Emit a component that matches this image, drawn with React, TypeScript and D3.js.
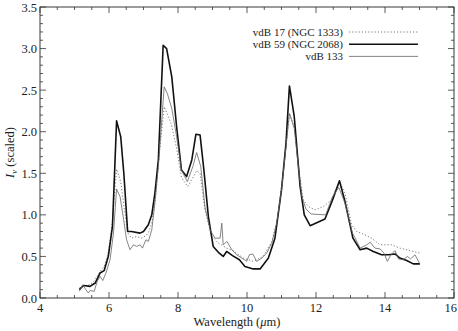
import React, { useEffect, useRef } from 'react';
import * as d3 from 'd3';

// spectra: [wavelength (um), I_nu scaled]
const vdb17: [number, number][] = [
  [5.14, 0.12], [5.3, 0.15], [5.45, 0.16], [5.6, 0.22], [5.74, 0.32], [5.86, 0.38],
  [5.98, 0.55], [6.1, 0.92], [6.22, 1.55], [6.34, 1.4], [6.45, 1.05], [6.55, 0.78],
  [6.65, 0.72], [6.8, 0.74], [6.95, 0.72], [7.07, 0.75], [7.15, 0.79], [7.25, 0.92],
  [7.35, 1.22], [7.45, 1.7], [7.6, 2.3], [7.8, 2.1], [7.96, 1.8], [8.1, 1.45],
  [8.28, 1.34], [8.42, 1.44], [8.54, 1.53], [8.64, 1.5], [8.78, 1.06], [8.98, 0.74],
  [9.17, 0.66], [9.41, 0.6], [9.6, 0.57], [9.89, 0.48], [10.18, 0.44], [10.47, 0.5],
  [10.72, 0.68], [10.88, 0.94], [11.0, 1.34], [11.13, 1.82], [11.23, 2.22], [11.37, 2.06],
  [11.52, 1.5], [11.63, 1.18], [11.78, 1.1], [11.97, 1.06], [12.21, 1.1], [12.45, 1.18],
  [12.68, 1.4], [12.84, 1.26], [13.03, 0.88], [13.18, 0.8], [13.37, 0.77], [13.61, 0.72],
  [13.86, 0.64], [14.19, 0.64], [14.43, 0.6], [14.72, 0.57], [15.01, 0.54],
];

const vdb59: [number, number][] = [
  [5.14, 0.1], [5.26, 0.15], [5.45, 0.14], [5.6, 0.18], [5.74, 0.3], [5.86, 0.33],
  [5.98, 0.5], [6.1, 0.86], [6.22, 2.13], [6.34, 1.94], [6.43, 1.5], [6.54, 0.8],
  [6.65, 0.8], [6.9, 0.78], [7.0, 0.8], [7.14, 0.88], [7.24, 1.0], [7.33, 1.26],
  [7.43, 1.66], [7.57, 3.04], [7.67, 3.0], [7.82, 2.66], [7.96, 2.06], [8.1, 1.54],
  [8.25, 1.46], [8.4, 1.66], [8.52, 1.97], [8.64, 1.96], [8.75, 1.54], [8.88, 0.98],
  [9.02, 0.62], [9.17, 0.55], [9.31, 0.5], [9.41, 0.56], [9.58, 0.51], [9.78, 0.46],
  [9.94, 0.38], [10.18, 0.35], [10.38, 0.35], [10.62, 0.48], [10.81, 0.72], [11.0, 1.3],
  [11.13, 1.86], [11.23, 2.55], [11.37, 2.18], [11.54, 1.34], [11.66, 1.0], [11.83, 0.87],
  [12.26, 0.95], [12.48, 1.18], [12.68, 1.41], [12.84, 1.16], [13.07, 0.72], [13.28, 0.58],
  [13.47, 0.6], [13.66, 0.56], [13.9, 0.52], [14.1, 0.52], [14.29, 0.53], [14.43, 0.48],
  [14.63, 0.45], [14.82, 0.41], [15.01, 0.41],
];

const vdb133: [number, number][] = [
  [5.14, 0.08], [5.24, 0.16], [5.33, 0.1], [5.4, 0.06], [5.45, 0.09], [5.57, 0.08],
  [5.66, 0.2], [5.74, 0.26], [5.82, 0.21], [5.91, 0.3], [6.03, 0.46], [6.13, 0.78],
  [6.22, 1.31], [6.32, 1.22], [6.41, 0.98], [6.51, 0.7], [6.61, 0.58], [6.71, 0.64],
  [6.8, 0.62], [6.9, 0.64], [6.97, 0.6], [7.07, 0.7], [7.14, 0.68], [7.24, 0.82],
  [7.33, 1.14], [7.43, 1.58], [7.6, 2.54], [7.69, 2.46], [7.82, 2.28], [7.96, 1.94],
  [8.1, 1.54], [8.27, 1.4], [8.43, 1.58], [8.54, 1.75], [8.66, 1.58], [8.78, 1.1],
  [8.93, 0.82], [9.07, 0.72], [9.22, 0.72], [9.27, 0.9], [9.31, 0.64], [9.42, 0.68],
  [9.56, 0.58], [9.7, 0.52], [9.85, 0.48], [9.99, 0.44], [10.07, 0.52], [10.17, 0.53],
  [10.28, 0.44], [10.43, 0.48], [10.57, 0.54], [10.72, 0.66], [10.86, 0.9], [11.0, 1.3],
  [11.13, 1.82], [11.23, 2.22], [11.37, 2.04], [11.52, 1.46], [11.59, 1.22], [11.71, 1.07],
  [11.86, 1.01], [12.28, 1.0], [12.47, 1.21], [12.66, 1.33], [12.84, 1.14], [13.06, 0.78],
  [13.28, 0.6], [13.47, 0.64], [13.57, 0.67], [13.71, 0.6], [13.86, 0.59], [13.97, 0.54],
  [14.07, 0.44], [14.17, 0.52], [14.29, 0.57], [14.39, 0.47], [14.53, 0.46], [14.65, 0.5],
  [14.74, 0.47], [14.87, 0.52], [15.01, 0.41],
];

const seriesNames = ['vdB 17 (NGC 1333)', 'vdB 59 (NGC 2068)', 'vdB 133'];
const xTicks = [4, 6, 8, 10, 12, 14, 16];
const yTicks = [0, 0.5, 1, 1.5, 2, 2.5, 3, 3.5];

const W = 458;
const H = 331;
const margin = { top: 7, right: 4, bottom: 33, left: 40 };
const FONT = "'Liberation Serif', 'Times New Roman', Times, 'DejaVu Serif', serif";

const App = () => {
  const ref = useRef<SVGSVGElement>(null);

  useEffect(() => {
    const svg = d3.select(ref.current);
    svg.selectAll('*').remove();

    const x = d3.scaleLinear().domain([4, 16]).range([margin.left, W - margin.right]);
    const y = d3.scaleLinear().domain([0, 3.5]).range([H - margin.bottom, margin.top]);
    const x0 = margin.left, x1 = W - margin.right;
    const y0 = H - margin.bottom, y1 = margin.top;

    // frame
    svg.append('rect')
      .attr('x', x0).attr('y', y1)
      .attr('width', x1 - x0).attr('height', y0 - y1)
      .attr('fill', 'none').attr('stroke', '#222').attr('stroke-width', 0.9);

    // ticks on all four sides, pointing inward
    const minorX = d3.range(4, 16.01, 0.5);
    const minorY = d3.range(0, 3.501, 0.1);
    const tg = svg.append('g').attr('stroke', '#333').attr('stroke-width', 0.8);
    minorX.forEach((v) => {
      const major = Math.abs(v % 2) < 1e-6;
      const len = major ? 6 : 3;
      tg.append('line').attr('x1', x(v)).attr('x2', x(v)).attr('y1', y0).attr('y2', y0 - len);
      tg.append('line').attr('x1', x(v)).attr('x2', x(v)).attr('y1', y1).attr('y2', y1 + len);
    });
    minorY.forEach((v) => {
      const r = Math.round(v * 10) % 5;
      const len = r === 0 ? 6 : 3;
      tg.append('line').attr('x1', x0).attr('x2', x0 + len).attr('y1', y(v)).attr('y2', y(v));
      tg.append('line').attr('x1', x1).attr('x2', x1 - len).attr('y1', y(v)).attr('y2', y(v));
    });

    const txt = (sel: any) => sel.style('font-family', FONT).attr('fill', '#222');

    // tick labels (the last one is pulled in so it stays inside the page)
    svg.append('g').selectAll('text').data(xTicks).enter().append('text')
      .attr('x', (d) => (d === 16 ? W - 1 : x(d)))
      .attr('y', y0 + 14)
      .attr('text-anchor', (d) => (d === 16 ? 'end' : 'middle'))
      .attr('font-size', 12.5)
      .call(txt)
      .text((d) => d);
    svg.append('g').selectAll('text').data(yTicks).enter().append('text')
      .attr('x', x0 - 3).attr('y', (d) => y(d) + 4.5)
      .attr('text-anchor', 'end')
      .attr('font-size', 12.5)
      .call(txt)
      .text((d) => d.toFixed(1));

    // axis titles
    const xt = svg.append('text')
      .attr('x', 237).attr('y', 326)
      .attr('text-anchor', 'middle')
      .attr('font-size', 12.5)
      .call(txt);
    xt.append('tspan').text('Wavelength (');
    xt.append('tspan').attr('font-style', 'italic').text('\u03bc');
    xt.append('tspan').text('m)');

    const yt = svg.append('text')
      .attr('transform', `translate(14,${(y0 + y1) / 2}) rotate(-90)`)
      .attr('text-anchor', 'middle')
      .attr('font-size', 12.5)
      .call(txt);
    yt.append('tspan').attr('font-style', 'italic').text('I');
    yt.append('tspan').attr('font-style', 'italic').attr('font-size', 9).attr('dy', 3).text('\u03bd');
    yt.append('tspan').attr('dy', -3).text(' (scaled)');

    // spectra
    const line = d3.line<[number, number]>().x((d) => x(d[0])).y((d) => y(d[1]));
    const styles = [
      { data: vdb17, stroke: '#555', width: 0.8, dash: '1.2,2' },
      { data: vdb59, stroke: '#111', width: 1.6, dash: null },
      { data: vdb133, stroke: '#666', width: 0.8, dash: null },
    ];
    styles.forEach((s) => {
      svg.append('path')
        .datum(s.data)
        .attr('d', line)
        .attr('fill', 'none')
        .attr('stroke', s.stroke)
        .attr('stroke-width', s.width)
        .attr('stroke-linejoin', 'round')
        .attr('stroke-dasharray', s.dash);
    });

    // legend
    const lg = svg.append('g');
    seriesNames.forEach((name, i) => {
      const ly = 32 + i * 12.2;
      lg.append('text')
        .attr('x', 343).attr('y', ly + 3.8)
        .attr('text-anchor', 'end')
        .attr('font-size', 11)
        .call(txt)
        .text(name);
      lg.append('line')
        .attr('x1', 349).attr('x2', 418).attr('y1', ly).attr('y2', ly)
        .attr('stroke', styles[i].stroke)
        .attr('stroke-width', styles[i].width)
        .attr('stroke-dasharray', styles[i].dash);
    });
  }, []);

  return (
    <svg
      ref={ref}
      width={W}
      height={H}
      style={{ position: 'absolute', left: 0, top: 0, background: '#fff' }}
    />
  );
};

export default App;
